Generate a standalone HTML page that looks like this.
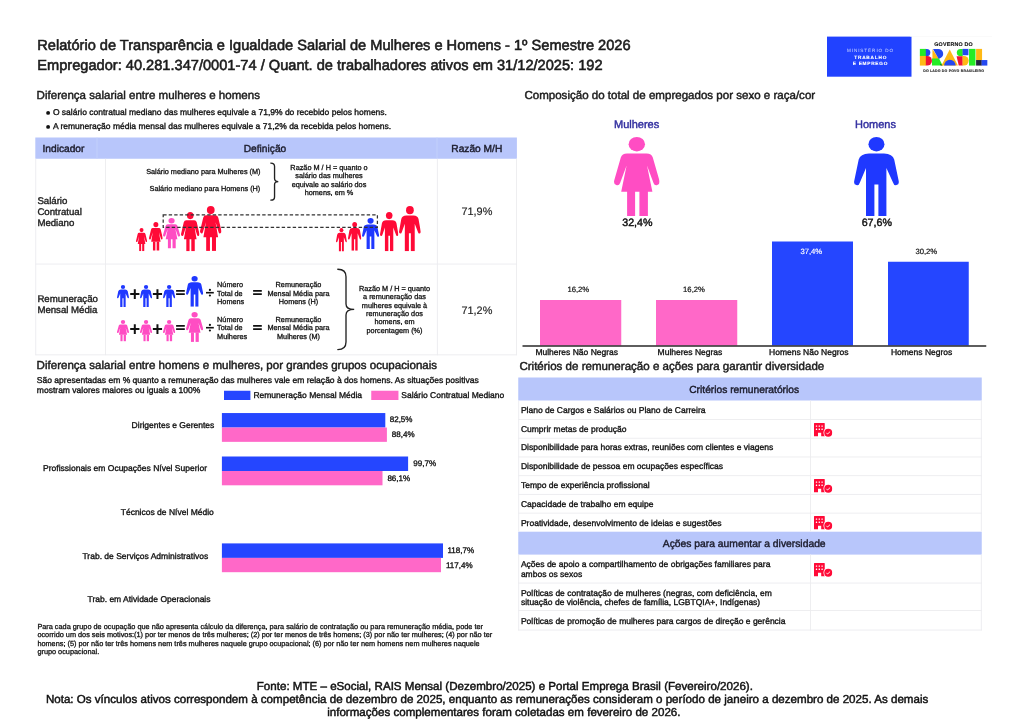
<!DOCTYPE html>
<html><head><meta charset="utf-8"><title>Relatório</title>
<style>
html,body{margin:0;padding:0;background:#fff;}
body{width:1024px;height:724px;position:relative;overflow:hidden;font-family:"Liberation Sans",sans-serif;color:#222;}
.t{position:absolute;white-space:nowrap;line-height:1;-webkit-text-stroke:0.02em currentColor;}
#pg{position:absolute;left:0;top:0;width:1024px;height:724px;will-change:transform;}
.r{position:absolute;}
svg{position:absolute;overflow:visible;}
#tx{font-family:"Liberation Sans",sans-serif;text-rendering:geometricPrecision;}
#tx text{white-space:pre;}
</style></head><body>
<svg width="0" height="0" style="left:0;top:0"><defs>
<symbol id="man" viewBox="0 0 44.9 79" preserveAspectRatio="none"><ellipse cx="22.45" cy="7.2" rx="8" ry="7.2"/><path d="M15,16.4 H30 Q38.6,16.6 40.2,22.5 L44.7,44 Q45.4,47.5 42.5,48.1 Q39.8,48.6 39,45.5 L32.4,31 V79 H24.4 V47.5 H20.4 V79 H12.0 V31 L5.9,45.5 Q5.1,48.6 2.4,48.1 Q-0.5,47.5 0.2,44 L4.7,22.5 Q6.3,16.6 15,16.4 Z"/></symbol>
<symbol id="wom" viewBox="0 0 45.6 79" preserveAspectRatio="none"><ellipse cx="22.8" cy="7.2" rx="8.2" ry="7.2"/><path d="M13,16.4 H32.6 Q37.5,16.4 38.8,20.5 L45.4,43.5 Q46.2,47 43.3,48 Q40.5,48.8 39.5,46 L33,28.5 L38.4,54.8 H7.2 L12.6,28.5 L6.1,46 Q5.1,48.8 2.3,48 Q-0.6,47 0.2,43.5 L6.8,20.5 Q8.1,16.4 13,16.4 Z"/><rect x="13.1" y="54" width="8" height="25"/><rect x="25.4" y="54" width="8.5" height="25"/></symbol>
<symbol id="bld" viewBox="0 0 185 140"><path fill="#ff0a37" d="M5,0 H102.5 Q107.5,0 107.5,5 V132.5 H72 V98 H40 V132.5 H0 V5 Q0,0 5,0 Z"/><g fill="#fff"><rect x="18" y="24" width="14" height="13" rx="3"/><rect x="46" y="24" width="14" height="13" rx="3"/><rect x="74" y="24" width="14" height="13" rx="3"/><rect x="18" y="56" width="14" height="13" rx="3"/><rect x="46" y="56" width="14" height="13" rx="3"/><rect x="74" y="56" width="14" height="13" rx="3"/></g><circle cx="142.5" cy="97.5" r="48" fill="#fff"/><circle cx="142.5" cy="97.5" r="40" fill="#ff0a37"/><path d="M124,98 L136,110 L161,86" fill="none" stroke="#fff" stroke-width="9"/></symbol>
</defs></svg>
<div id="pg">
<svg style="left:827px;top:36px" width="85" height="41"><rect x="0.00" y="0.60" width="84.50" height="40.10" fill="#2142ff"/></svg>
<svg style="left:910px;top:30px" width="90" height="55" viewBox="0 0 1024 626">
<rect x="0" y="68" width="935" height="5" fill="#f4f4f4"/>
<rect x="112" y="215" width="70" height="82" fill="#25ec25"/>
<path d="M180,215 h10 a41,41 0 0 1 0,82 h-10 z" fill="#2448f0"/>
<rect x="112" y="295" width="70" height="110" fill="#ffb915"/>
<path d="M180,295 h15 a55,55 0 0 1 0,110 h-15 z" fill="#ee1436"/>
<path d="M255,215 L330,330 L255,330 Z" fill="#ffb915"/>
<path d="M262,215 h60 a55,55 0 0 1 25,104 l-20,10 z" fill="#2448f0"/>
<path d="M250,325 L330,325 L372,405 L250,405 Z" fill="#25ec25"/>
<path d="M340,380 L372,405 L350,405 Z" fill="#23233f"/>
<path d="M452,222 L545,405 L358,405 Z" fill="#ffb915"/>
<path d="M388,405 a66,66 0 0 1 132,0 z" fill="#2448f0"/>
<path d="M600,215 v85 h-25 a42.5,42.5 0 0 1 0,-85 z" fill="#25ec25"/>
<rect x="598" y="215" width="67" height="72" fill="#2448f0"/>
<path d="M530,300 h70 v105 h-45 q-15,-60 -25,-105 z" fill="#ee1436"/>
<path d="M598,295 h15 a55,55 0 0 1 0,110 h-15 z" fill="#ffb915"/>
<rect x="672" y="215" width="73" height="190" fill="#25ec25"/>
<rect x="752" y="215" width="68" height="130" fill="#ffb915"/>
<rect x="752" y="342" width="65" height="63" fill="#23233f"/>
<rect x="815" y="342" width="65" height="63" fill="#2448f0"/>
</svg>
<svg style="left:0;top:0" width="1024" height="724"><circle cx="48.1" cy="112.90" r="1.95" fill="#111"/></svg>
<svg style="left:0;top:0" width="1024" height="724"><circle cx="48.1" cy="126.90" r="1.95" fill="#111"/></svg>
<svg style="left:35px;top:137px" width="482" height="22"><rect x="0.30" y="0.50" width="481.60" height="21.25" fill="#b8c6fb"/></svg>
<svg style="left:96px;top:137px" width="2" height="22"><rect x="0.60" y="0.50" width="0.80" height="21.25" fill="#c6d1fc"/></svg>
<svg style="left:436px;top:137px" width="2" height="22"><rect x="0.60" y="0.50" width="0.80" height="21.25" fill="#c6d1fc"/></svg>
<svg style="left:35px;top:158px" width="2" height="198"><rect x="0.30" y="0.75" width="0.90" height="196.50" fill="#ececef"/></svg>
<svg style="left:105px;top:158px" width="1" height="198"><rect x="0.00" y="0.75" width="0.90" height="196.50" fill="#ececef"/></svg>
<svg style="left:436px;top:158px" width="2" height="198"><rect x="0.90" y="0.75" width="0.90" height="196.50" fill="#ececef"/></svg>
<svg style="left:516px;top:158px" width="1" height="198"><rect x="0.10" y="0.75" width="0.90" height="196.50" fill="#ececef"/></svg>
<svg style="left:35px;top:263px" width="482" height="2"><rect x="0.30" y="0.60" width="481.60" height="0.90" fill="#ececef"/></svg>
<svg style="left:35px;top:354px" width="482" height="2"><rect x="0.30" y="0.40" width="481.60" height="0.90" fill="#ececef"/></svg>
<svg style="left:0;top:0" width="1024" height="724"><path d="M270.80,163.10 Q274.55,163.10 274.55,166.30 V178.60 Q274.55,181.60 278.30,181.60 Q274.55,181.60 274.55,184.60 V196.90 Q274.55,200.10 270.80,200.10" fill="none" stroke="#222" stroke-width="1.35" stroke-linecap="round"/></svg>
<svg style="left:136.00px;top:227.75px" width="11.10" height="23.15" fill="#ff0a37"><use href="#wom" width="11.10" height="23.15"/></svg>
<svg style="left:148.50px;top:222.25px" width="13.75" height="28.65" fill="#ff0a37"><use href="#wom" width="13.75" height="28.65"/></svg>
<svg style="left:162.90px;top:218.25px" width="17.10" height="30.50" fill="#ff4dc3"><use href="#wom" width="17.10" height="30.50"/></svg>
<svg style="left:180.60px;top:211.60px" width="18.50" height="39.30" fill="#ff0a37"><use href="#wom" width="18.50" height="39.30"/></svg>
<svg style="left:199.75px;top:206.00px" width="21.50" height="44.90" fill="#ff0a37"><use href="#wom" width="21.50" height="44.90"/></svg>
<svg style="left:335.60px;top:227.50px" width="10.90" height="23.40" fill="#ff0a37"><use href="#man" width="10.90" height="23.40"/></svg>
<svg style="left:347.90px;top:222.25px" width="13.35" height="28.65" fill="#ff0a37"><use href="#man" width="13.35" height="28.65"/></svg>
<svg style="left:362.25px;top:218.10px" width="17.15" height="30.90" fill="#1f38ff"><use href="#man" width="17.15" height="30.90"/></svg>
<svg style="left:380.00px;top:211.60px" width="18.40" height="39.30" fill="#ff0a37"><use href="#man" width="18.40" height="39.30"/></svg>
<svg style="left:399.10px;top:205.60px" width="21.80" height="45.30" fill="#ff0a37"><use href="#man" width="21.80" height="45.30"/></svg>
<svg style="left:0;top:0" width="1024" height="724"><rect x="163.2" y="214.9" width="214.2" height="12.5" fill="none" stroke="#333" stroke-width="1.25" stroke-dasharray="3.4 2.1"/></svg>
<svg style="left:117.10px;top:285.00px" width="12.00" height="21.90" fill="#1f38ff"><use href="#man" width="12.00" height="21.90"/></svg>
<svg style="left:140.00px;top:285.00px" width="12.10" height="21.90" fill="#1f38ff"><use href="#man" width="12.10" height="21.90"/></svg>
<svg style="left:162.75px;top:285.00px" width="12.25" height="21.90" fill="#1f38ff"><use href="#man" width="12.25" height="21.90"/></svg>
<svg style="left:185.90px;top:276.25px" width="17.20" height="30.65" fill="#1f38ff"><use href="#man" width="17.20" height="30.65"/></svg>
<svg style="left:0;top:0" width="1024" height="724"><path d="M130.20,294.10 h9.2 M134.80,289.30 v9.6" stroke="#111" stroke-width="2.0" fill="none"/><path d="M152.85,294.10 h9.2 M157.45,289.30 v9.6" stroke="#111" stroke-width="2.0" fill="none"/><path d="M176.10,290.90 h8.7 M176.10,294.20 h8.7" stroke="#111" stroke-width="1.75" fill="none"/><path d="M253.10,290.90 h8.7 M253.10,294.20 h8.7" stroke="#111" stroke-width="1.75" fill="none"/><path d="M206,292.70 h7.8" stroke="#111" stroke-width="1.6" fill="none"/><circle cx="209.9" cy="289.90" r="1.1" fill="#111"/><circle cx="209.9" cy="295.50" r="1.1" fill="#111"/></svg>
<svg style="left:117.10px;top:320.40px" width="12.00" height="21.40" fill="#ff4dc3"><use href="#wom" width="12.00" height="21.40"/></svg>
<svg style="left:140.00px;top:320.40px" width="12.10" height="21.40" fill="#ff4dc3"><use href="#wom" width="12.10" height="21.40"/></svg>
<svg style="left:162.75px;top:320.40px" width="12.25" height="21.40" fill="#ff4dc3"><use href="#wom" width="12.25" height="21.40"/></svg>
<svg style="left:185.90px;top:311.90px" width="17.20" height="29.90" fill="#ff4dc3"><use href="#wom" width="17.20" height="29.90"/></svg>
<svg style="left:0;top:0" width="1024" height="724"><path d="M130.20,329.10 h9.2 M134.80,324.30 v9.6" stroke="#111" stroke-width="2.0" fill="none"/><path d="M152.85,329.10 h9.2 M157.45,324.30 v9.6" stroke="#111" stroke-width="2.0" fill="none"/><path d="M176.10,325.90 h8.7 M176.10,329.20 h8.7" stroke="#111" stroke-width="1.75" fill="none"/><path d="M253.10,325.90 h8.7 M253.10,329.20 h8.7" stroke="#111" stroke-width="1.75" fill="none"/><path d="M206,327.70 h7.8" stroke="#111" stroke-width="1.6" fill="none"/><circle cx="209.9" cy="324.90" r="1.1" fill="#111"/><circle cx="209.9" cy="330.50" r="1.1" fill="#111"/></svg>
<svg style="left:0;top:0" width="1024" height="724"><path d="M337.80,269.20 Q346.00,269.20 346.00,276.70 V303.90 Q346.00,309.40 354.20,309.40 Q346.00,309.40 346.00,314.90 V342.10 Q346.00,349.60 337.80,349.60" fill="none" stroke="#222" stroke-width="1.35" stroke-linecap="round"/></svg>
<svg style="left:614.10px;top:136.80px" width="45.60" height="79.00" fill="#ff4dc3"><use href="#wom" width="45.60" height="79.00"/></svg>
<svg style="left:854.10px;top:136.80px" width="44.90" height="79.00" fill="#1f38ff"><use href="#man" width="44.90" height="79.00"/></svg>
<svg style="left:540px;top:300px" width="82" height="46"><rect x="0.00" y="0.00" width="81.25" height="45.50" fill="#ff68c8"/></svg>
<svg style="left:656px;top:300px" width="82" height="46"><rect x="0.00" y="0.00" width="81.25" height="45.50" fill="#ff68c8"/></svg>
<svg style="left:772px;top:241px" width="81" height="105"><rect x="0.00" y="0.50" width="81.00" height="104.00" fill="#2546ff"/></svg>
<svg style="left:888px;top:261px" width="81" height="85"><rect x="0.00" y="0.75" width="80.75" height="83.75" fill="#2546ff"/></svg>
<svg style="left:0;top:0" width="1024" height="724"><rect x="522.5" y="345.25" width="463.75" height="1.5" fill="#2a2a2a"/></svg>
<svg style="left:224px;top:390px" width="27" height="10"><rect x="0.00" y="0.75" width="26.40" height="9.25" fill="#2546ff"/></svg>
<svg style="left:371px;top:390px" width="28" height="10"><rect x="0.25" y="0.75" width="27.20" height="9.25" fill="#ff68c8"/></svg>
<svg style="left:221px;top:413px" width="165" height="15"><rect x="0.90" y="0.05" width="163.40" height="14.50" fill="#2546ff"/></svg>
<svg style="left:221px;top:427px" width="166" height="15"><rect x="0.90" y="0.55" width="165.00" height="14.30" fill="#ff68c8"/></svg>
<svg style="left:221px;top:456px" width="188" height="15"><rect x="0.90" y="0.50" width="186.20" height="14.50" fill="#2546ff"/></svg>
<svg style="left:221px;top:471px" width="162" height="15"><rect x="0.90" y="0.00" width="160.60" height="14.30" fill="#ff68c8"/></svg>
<svg style="left:221px;top:543px" width="222" height="15"><rect x="0.90" y="0.40" width="221.10" height="14.50" fill="#2546ff"/></svg>
<svg style="left:221px;top:557px" width="220" height="16"><rect x="0.90" y="0.90" width="219.10" height="14.30" fill="#ff68c8"/></svg>
<svg style="left:518px;top:377px" width="464" height="24"><rect x="0.25" y="0.50" width="463.50" height="23.00" fill="#b8c6fb"/></svg>
<svg style="left:518px;top:531px" width="464" height="24"><rect x="0.25" y="0.70" width="463.50" height="22.90" fill="#b8c6fb"/></svg>
<svg style="left:518px;top:419px" width="464" height="1"><rect x="0.25" y="0.07" width="463.50" height="0.90" fill="#ececef"/></svg>
<svg style="left:518px;top:437px" width="464" height="2"><rect x="0.25" y="0.79" width="463.50" height="0.90" fill="#ececef"/></svg>
<svg style="left:813.70px;top:422.50px" width="18.5" height="14"><use href="#bld" width="18.5" height="14"/></svg>
<svg style="left:518px;top:456px" width="464" height="2"><rect x="0.25" y="0.51" width="463.50" height="0.90" fill="#ececef"/></svg>
<svg style="left:518px;top:475px" width="464" height="2"><rect x="0.25" y="0.23" width="463.50" height="0.90" fill="#ececef"/></svg>
<svg style="left:518px;top:493px" width="464" height="2"><rect x="0.25" y="0.95" width="463.50" height="0.90" fill="#ececef"/></svg>
<svg style="left:813.70px;top:478.66px" width="18.5" height="14"><use href="#bld" width="18.5" height="14"/></svg>
<svg style="left:518px;top:512px" width="464" height="2"><rect x="0.25" y="0.67" width="463.50" height="0.90" fill="#ececef"/></svg>
<svg style="left:813.70px;top:516.10px" width="18.5" height="14"><use href="#bld" width="18.5" height="14"/></svg>
<svg style="left:813.75px;top:563.25px" width="18.5" height="14"><use href="#bld" width="18.5" height="14"/></svg>
<svg style="left:518px;top:582px" width="464" height="2"><rect x="0.25" y="0.60" width="463.50" height="0.90" fill="#ececef"/></svg>
<svg style="left:518px;top:610px" width="464" height="1"><rect x="0.25" y="0.00" width="463.50" height="0.90" fill="#ececef"/></svg>
<svg style="left:518px;top:629px" width="464" height="2"><rect x="0.25" y="0.60" width="463.50" height="0.90" fill="#ececef"/></svg>
<svg style="left:518px;top:400px" width="2" height="132"><rect x="0.25" y="0.50" width="0.90" height="131.00" fill="#ececef"/></svg>
<svg style="left:810px;top:400px" width="1" height="132"><rect x="0.05" y="0.50" width="0.90" height="131.00" fill="#ececef"/></svg>
<svg style="left:980px;top:400px" width="2" height="132"><rect x="0.85" y="0.50" width="0.90" height="131.00" fill="#ececef"/></svg>
<svg style="left:518px;top:554px" width="2" height="77"><rect x="0.25" y="0.50" width="0.90" height="76.00" fill="#ececef"/></svg>
<svg style="left:810px;top:554px" width="1" height="77"><rect x="0.05" y="0.50" width="0.90" height="76.00" fill="#ececef"/></svg>
<svg style="left:980px;top:554px" width="2" height="77"><rect x="0.85" y="0.50" width="0.90" height="76.00" fill="#ececef"/></svg>
<svg id="tx" width="1024" height="724" style="left:0;top:0">
<text x="37.30" y="50.00" font-size="14.62" text-anchor="start" fill="#1c1c1c" stroke="#1c1c1c" stroke-width="0.585" >Relatório de Transparência e Igualdade Salarial de Mulheres e Homens - 1º Semestre 2026</text>
<text x="37.30" y="70.00" font-size="14.61" text-anchor="start" fill="#1c1c1c" stroke="#1c1c1c" stroke-width="0.584" >Empregador: 40.281.347/0001-74 / Quant. de trabalhadores ativos em 31/12/2025: 192</text>
<g transform="translate(870.50,52.30) scale(0.25)"><text x="0" y="0" font-size="18.4" text-anchor="middle" fill="#dfe5ff" font-weight="400" stroke="#dfe5ff" stroke-width="0" letter-spacing="3.76" opacity="0.9">MINISTÉRIO DO</text></g>
<g transform="translate(870.70,58.80) scale(0.25)"><text x="0" y="0" font-size="18.8" text-anchor="middle" fill="#fff" font-weight="700" stroke="#fff" stroke-width="0.5" letter-spacing="3.32" opacity="1">TRABALHO</text></g>
<g transform="translate(870.40,65.40) scale(0.25)"><text x="0" y="0" font-size="18.8" text-anchor="middle" fill="#fff" font-weight="700" stroke="#fff" stroke-width="0.5" letter-spacing="3.12" opacity="1">E EMPREGO</text></g>
<g transform="translate(953.60,45.80) scale(0.25)"><text x="0" y="0" font-size="21.2" text-anchor="middle" fill="#111" font-weight="700" stroke="#111" stroke-width="0.5" letter-spacing="0.88" opacity="1">GOVERNO DO</text></g>
<g transform="translate(953.70,71.70) scale(0.25)"><text x="0" y="0" font-size="14.2" text-anchor="middle" fill="#333" font-weight="700" stroke="#333" stroke-width="0.5" letter-spacing="0.64" opacity="1">DO LADO DO POVO BRASILEIRO</text></g>
<text x="36.60" y="98.75" font-size="11.55" text-anchor="start" fill="#1c1c1c" stroke="#1c1c1c" stroke-width="0.462" >Diferença salarial entre mulheres e homens</text>
<text x="524.40" y="98.75" font-size="11.55" text-anchor="start" fill="#1c1c1c" stroke="#1c1c1c" stroke-width="0.462" >Composição do total de empregados por sexo e raça/cor</text>
<text x="36.60" y="369.25" font-size="11.55" text-anchor="start" fill="#1c1c1c" stroke="#1c1c1c" stroke-width="0.462" >Diferença salarial entre homens e mulheres, por grandes grupos ocupacionais</text>
<text x="519.40" y="370.00" font-size="11.55" text-anchor="start" fill="#1c1c1c" stroke="#1c1c1c" stroke-width="0.462" >Critérios de remuneração e ações para garantir diversidade</text>
<text x="52.90" y="115.00" font-size="8.5" text-anchor="start" fill="#111" stroke="#111" stroke-width="0.340" >O salário contratual mediano das mulheres equivale a 71,9% do recebido pelos homens.</text>
<text x="52.90" y="129.00" font-size="8.5" text-anchor="start" fill="#111" stroke="#111" stroke-width="0.340" >A remuneração média mensal das mulheres equivale a 71,2% da recebida pelos homens.</text>
<text x="42.50" y="152.00" font-size="10.2" text-anchor="start" fill="#1c1c2c" stroke="#1c1c2c" stroke-width="0.408" >Indicador</text>
<text x="265.00" y="152.00" font-size="10.2" text-anchor="middle" fill="#1c1c2c" stroke="#1c1c2c" stroke-width="0.408" >Definição</text>
<text x="476.80" y="152.00" font-size="10.2" text-anchor="middle" fill="#1c1c2c" stroke="#1c1c2c" stroke-width="0.408" >Razão M/H</text>
<text x="37.40" y="203.80" font-size="9.65" text-anchor="start" fill="#222" stroke="#222" stroke-width="0.386" >Salário</text>
<text x="37.40" y="214.85" font-size="9.65" text-anchor="start" fill="#222" stroke="#222" stroke-width="0.386" >Contratual</text>
<text x="37.40" y="225.90" font-size="9.65" text-anchor="start" fill="#222" stroke="#222" stroke-width="0.386" >Mediano</text>
<text x="37.40" y="301.80" font-size="9.65" text-anchor="start" fill="#222" stroke="#222" stroke-width="0.386" >Remuneração</text>
<text x="37.40" y="312.80" font-size="9.65" text-anchor="start" fill="#222" stroke="#222" stroke-width="0.386" >Mensal Média</text>
<text x="476.90" y="215.10" font-size="10.9" text-anchor="middle" fill="#222" stroke="#222" stroke-width="0.164" >71,9%</text>
<text x="476.90" y="313.80" font-size="10.9" text-anchor="middle" fill="#222" stroke="#222" stroke-width="0.164" >71,2%</text>
<text x="260.50" y="174.40" font-size="7.3" text-anchor="end" fill="#111" stroke="#111" stroke-width="0.292" >Salário mediano para Mulheres (M)</text>
<text x="260.30" y="191.30" font-size="7.3" text-anchor="end" fill="#111" stroke="#111" stroke-width="0.292" >Salário mediano para Homens (H)</text>
<text x="329.00" y="170.00" font-size="7.3" text-anchor="middle" fill="#111" stroke="#111" stroke-width="0.292" >Razão M / H = quanto o</text>
<text x="329.00" y="178.33" font-size="7.3" text-anchor="middle" fill="#111" stroke="#111" stroke-width="0.292" >salário das mulheres</text>
<text x="329.00" y="186.66" font-size="7.3" text-anchor="middle" fill="#111" stroke="#111" stroke-width="0.292" >equivale ao salário dos</text>
<text x="329.00" y="194.99" font-size="7.3" text-anchor="middle" fill="#111" stroke="#111" stroke-width="0.292" >homens, em %</text>
<text x="217.10" y="286.90" font-size="7.3" text-anchor="start" fill="#111" stroke="#111" stroke-width="0.292" >Número</text>
<text x="217.10" y="295.60" font-size="7.3" text-anchor="start" fill="#111" stroke="#111" stroke-width="0.292" >Total de</text>
<text x="217.10" y="303.90" font-size="7.3" text-anchor="start" fill="#111" stroke="#111" stroke-width="0.292" >Homens</text>
<text x="298.50" y="286.90" font-size="7.3" text-anchor="middle" fill="#111" stroke="#111" stroke-width="0.292" >Remuneração</text>
<text x="298.50" y="295.60" font-size="7.3" text-anchor="middle" fill="#111" stroke="#111" stroke-width="0.292" >Mensal Média para</text>
<text x="298.50" y="303.90" font-size="7.3" text-anchor="middle" fill="#111" stroke="#111" stroke-width="0.292" >Homens (H)</text>
<text x="217.10" y="321.90" font-size="7.3" text-anchor="start" fill="#111" stroke="#111" stroke-width="0.292" >Número</text>
<text x="217.10" y="330.25" font-size="7.3" text-anchor="start" fill="#111" stroke="#111" stroke-width="0.292" >Total de</text>
<text x="217.10" y="338.50" font-size="7.3" text-anchor="start" fill="#111" stroke="#111" stroke-width="0.292" >Mulheres</text>
<text x="298.50" y="321.90" font-size="7.3" text-anchor="middle" fill="#111" stroke="#111" stroke-width="0.292" >Remuneração</text>
<text x="298.50" y="330.25" font-size="7.3" text-anchor="middle" fill="#111" stroke="#111" stroke-width="0.292" >Mensal Média para</text>
<text x="298.50" y="338.50" font-size="7.3" text-anchor="middle" fill="#111" stroke="#111" stroke-width="0.292" >Mulheres (M)</text>
<text x="394.50" y="290.90" font-size="7.3" text-anchor="middle" fill="#111" stroke="#111" stroke-width="0.292" >Razão M / H = quanto</text>
<text x="394.50" y="299.26" font-size="7.3" text-anchor="middle" fill="#111" stroke="#111" stroke-width="0.292" >a remuneração das</text>
<text x="394.50" y="307.62" font-size="7.3" text-anchor="middle" fill="#111" stroke="#111" stroke-width="0.292" >mulheres equivale à</text>
<text x="394.50" y="315.98" font-size="7.3" text-anchor="middle" fill="#111" stroke="#111" stroke-width="0.292" >remuneração dos</text>
<text x="394.50" y="324.34" font-size="7.3" text-anchor="middle" fill="#111" stroke="#111" stroke-width="0.292" >homens, em</text>
<text x="394.50" y="332.70" font-size="7.3" text-anchor="middle" fill="#111" stroke="#111" stroke-width="0.292" >porcentagem (%)</text>
<text x="614.00" y="127.60" font-size="11" text-anchor="start" fill="#322fa0" stroke="#322fa0" stroke-width="0.440" >Mulheres</text>
<text x="855.00" y="127.60" font-size="11" text-anchor="start" fill="#322fa0" stroke="#322fa0" stroke-width="0.440" >Homens</text>
<text x="637.40" y="225.60" font-size="10.7" text-anchor="middle" fill="#111" stroke="#111" stroke-width="0.428" >32,4%</text>
<text x="876.80" y="225.60" font-size="10.7" text-anchor="middle" fill="#111" stroke="#111" stroke-width="0.428" >67,6%</text>
<text x="578.30" y="292.00" font-size="7.7" text-anchor="middle" fill="#111" stroke="#111" stroke-width="0.193" >16,2%</text>
<text x="694.00" y="292.00" font-size="7.7" text-anchor="middle" fill="#111" stroke="#111" stroke-width="0.193" >16,2%</text>
<text x="811.30" y="253.50" font-size="7.7" text-anchor="middle" fill="#fff" stroke="#fff" stroke-width="0.154" >37,4%</text>
<text x="926.30" y="253.50" font-size="7.7" text-anchor="middle" fill="#111" stroke="#111" stroke-width="0.193" >30,2%</text>
<text x="535.40" y="354.50" font-size="8.5" text-anchor="start" fill="#111" stroke="#111" stroke-width="0.340" >Mulheres Não Negras</text>
<text x="657.60" y="354.50" font-size="8.5" text-anchor="start" fill="#111" stroke="#111" stroke-width="0.340" >Mulheres Negras</text>
<text x="769.10" y="354.50" font-size="8.5" text-anchor="start" fill="#111" stroke="#111" stroke-width="0.340" >Homens Não Negros</text>
<text x="890.90" y="354.50" font-size="8.5" text-anchor="start" fill="#111" stroke="#111" stroke-width="0.340" >Homens Negros</text>
<text x="36.80" y="383.00" font-size="8.54" text-anchor="start" fill="#111" stroke="#111" stroke-width="0.342" >São apresentadas em % quanto a remuneração das mulheres vale em relação à dos homens. As situações positivas</text>
<text x="36.80" y="392.60" font-size="8.54" text-anchor="start" fill="#111" stroke="#111" stroke-width="0.342" >mostram valores maiores ou iguais a 100%</text>
<text x="253.40" y="398.00" font-size="8.5" text-anchor="start" fill="#111" stroke="#111" stroke-width="0.340" >Remuneração Mensal Média</text>
<text x="401.30" y="398.00" font-size="8.5" text-anchor="start" fill="#111" stroke="#111" stroke-width="0.340" >Salário Contratual Mediano</text>
<text x="214.30" y="428.00" font-size="8.5" text-anchor="end" fill="#111" stroke="#111" stroke-width="0.340" >Dirigentes e Gerentes</text>
<text x="389.70" y="422.45" font-size="8.05" text-anchor="start" fill="#111" stroke="#111" stroke-width="0.322" >82,5%</text>
<text x="391.80" y="437.45" font-size="8.05" text-anchor="start" fill="#111" stroke="#111" stroke-width="0.322" >88,4%</text>
<text x="207.00" y="471.00" font-size="8.5" text-anchor="end" fill="#111" stroke="#111" stroke-width="0.340" >Profissionais em Ocupações Nível Superior</text>
<text x="413.30" y="465.90" font-size="8.05" text-anchor="start" fill="#111" stroke="#111" stroke-width="0.322" >99,7%</text>
<text x="387.40" y="480.90" font-size="8.05" text-anchor="start" fill="#111" stroke="#111" stroke-width="0.322" >86,1%</text>
<text x="213.80" y="515.00" font-size="8.5" text-anchor="end" fill="#111" stroke="#111" stroke-width="0.340" >Técnicos de Nível Médio</text>
<text x="208.30" y="559.00" font-size="8.5" text-anchor="end" fill="#111" stroke="#111" stroke-width="0.340" >Trab. de Serviços Administrativos</text>
<text x="447.40" y="552.80" font-size="8.05" text-anchor="start" fill="#111" stroke="#111" stroke-width="0.322" >118,7%</text>
<text x="445.90" y="567.80" font-size="8.05" text-anchor="start" fill="#111" stroke="#111" stroke-width="0.322" >117,4%</text>
<text x="210.50" y="602.00" font-size="8.5" text-anchor="end" fill="#111" stroke="#111" stroke-width="0.340" >Trab. em Atividade Operacionais</text>
<text x="37.40" y="629.00" font-size="7.32" text-anchor="start" fill="#111" stroke="#111" stroke-width="0.293" >Para cada grupo de ocupação que não apresenta cálculo da diferença, para salário de contratação ou para remuneração média, pode ter</text>
<text x="37.40" y="637.00" font-size="7.32" text-anchor="start" fill="#111" stroke="#111" stroke-width="0.293" >ocorrido um dos seis motivos:(1) por ter menos de três mulheres; (2) por ter menos de três homens; (3) por não ter mulheres; (4) por não ter</text>
<text x="37.40" y="646.00" font-size="7.32" text-anchor="start" fill="#111" stroke="#111" stroke-width="0.293" >homens; (5) por não ter três homens nem três mulheres naquele grupo ocupacional; (6) por não ter nem homens nem mulheres naquele</text>
<text x="37.40" y="654.00" font-size="7.32" text-anchor="start" fill="#111" stroke="#111" stroke-width="0.293" >grupo ocupacional.</text>
<text x="689.20" y="392.90" font-size="10.25" text-anchor="start" fill="#1c1c2c" stroke="#1c1c2c" stroke-width="0.410" >Critérios remuneratórios</text>
<text x="662.80" y="547.00" font-size="10.32" text-anchor="start" fill="#1c1c2c" stroke="#1c1c2c" stroke-width="0.413" >Ações para aumentar a diversidade</text>
<text x="520.90" y="413.00" font-size="8.52" text-anchor="start" fill="#111" stroke="#111" stroke-width="0.341" >Plano de Cargos e Salários ou Plano de Carreira</text>
<text x="520.90" y="432.00" font-size="8.52" text-anchor="start" fill="#111" stroke="#111" stroke-width="0.341" >Cumprir metas de produção</text>
<text x="520.90" y="450.00" font-size="8.52" text-anchor="start" fill="#111" stroke="#111" stroke-width="0.341" >Disponibilidade para horas extras, reuniões com clientes e viagens</text>
<text x="520.90" y="469.00" font-size="8.52" text-anchor="start" fill="#111" stroke="#111" stroke-width="0.341" >Disponibilidade de pessoa em ocupações específicas</text>
<text x="520.90" y="488.00" font-size="8.52" text-anchor="start" fill="#111" stroke="#111" stroke-width="0.341" >Tempo de experiência profissional</text>
<text x="520.90" y="507.00" font-size="8.52" text-anchor="start" fill="#111" stroke="#111" stroke-width="0.341" >Capacidade de trabalho em equipe</text>
<text x="520.90" y="526.00" font-size="8.52" text-anchor="start" fill="#111" stroke="#111" stroke-width="0.341" >Proatividade, desenvolvimento de ideias e sugestões</text>
<text x="520.90" y="567.00" font-size="8.5" text-anchor="start" fill="#111" stroke="#111" stroke-width="0.340" >Ações de apoio a compartilhamento de obrigações familiares para</text>
<text x="520.90" y="576.75" font-size="8.5" text-anchor="start" fill="#111" stroke="#111" stroke-width="0.340" >ambos os sexos</text>
<text x="520.90" y="595.50" font-size="8.5" text-anchor="start" fill="#111" stroke="#111" stroke-width="0.340" >Políticas de contratação de mulheres (negras, com deficiência, em</text>
<text x="520.90" y="605.10" font-size="8.5" text-anchor="start" fill="#111" stroke="#111" stroke-width="0.340" >situação de violência, chefes de família, LGBTQIA+, Indígenas)</text>
<text x="520.90" y="623.75" font-size="8.5" text-anchor="start" fill="#111" stroke="#111" stroke-width="0.340" >Políticas de promoção de mulheres para cargos de direção e gerência</text>
<text x="256.80" y="689.50" font-size="11.585" text-anchor="start" fill="#111" stroke="#111" stroke-width="0.463" >Fonte: MTE – eSocial, RAIS Mensal (Dezembro/2025) e Portal Emprega Brasil (Fevereiro/2026).</text>
<text x="45.90" y="703.00" font-size="11.585" text-anchor="start" fill="#111" stroke="#111" stroke-width="0.463" >Nota: Os vínculos ativos correspondem à competência de dezembro de 2025, enquanto as remunerações consideram o período de janeiro a dezembro de 2025. As demais</text>
<text x="327.20" y="716.25" font-size="11.585" text-anchor="start" fill="#111" stroke="#111" stroke-width="0.463" >informações complementares foram coletadas em fevereiro de 2026.</text>
</svg>
</div>
</body></html>
